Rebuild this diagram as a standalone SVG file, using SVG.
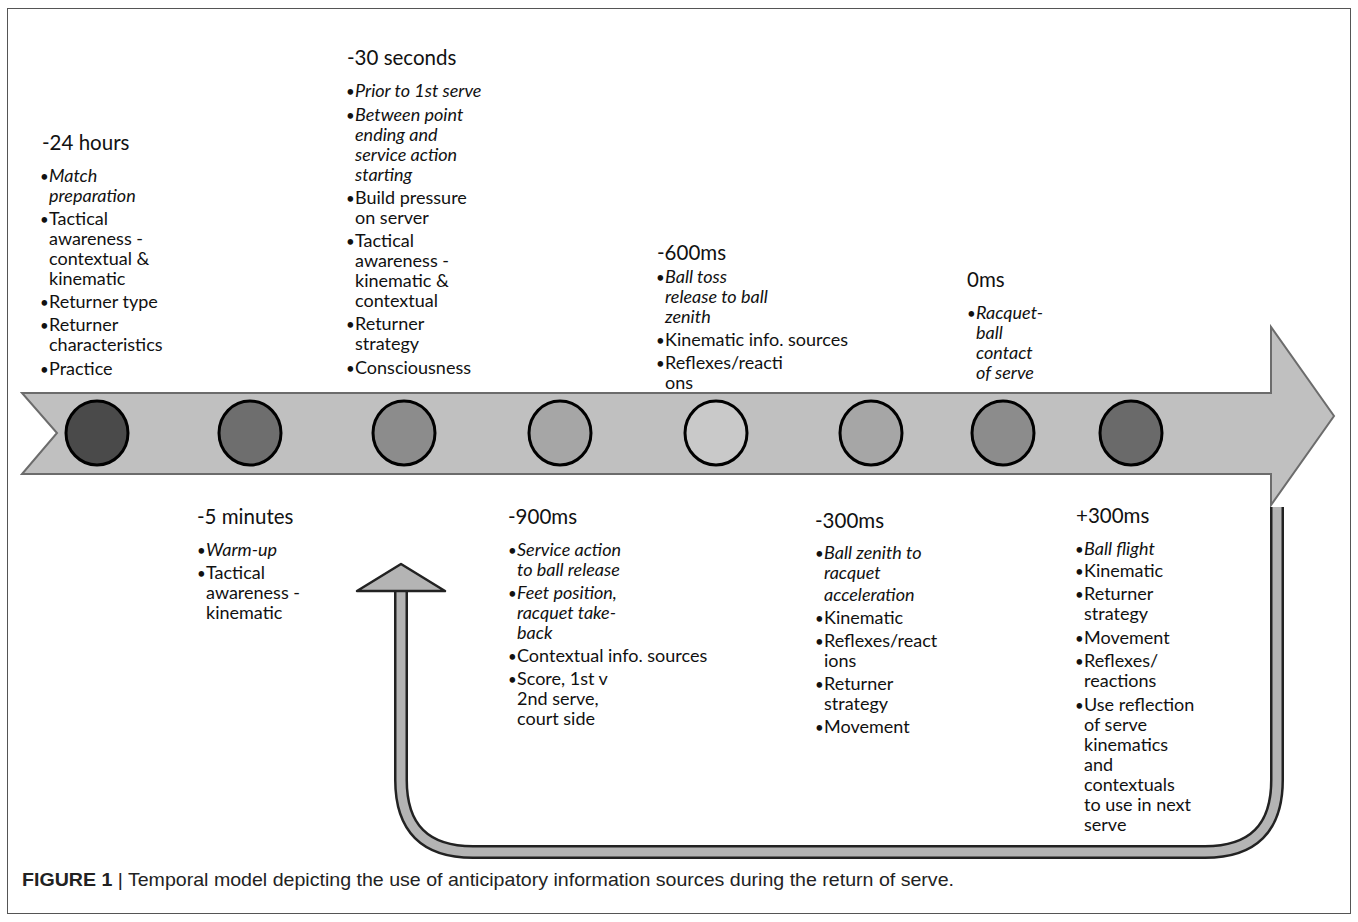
<svg xmlns="http://www.w3.org/2000/svg" width="1358" height="922" viewBox="0 0 1358 922">
<style>
.h{font-family:Lato,"Open Sans",sans-serif;font-size:20.5px;fill:#111}
.t{font-family:Lato,"Open Sans",sans-serif;font-size:18px;fill:#111}
.b{font-size:15px}
.i{font-style:italic}
.c{stroke:#000;stroke-width:3}
.cap{font-family:"Liberation Sans Narrow","Liberation Sans",sans-serif;font-size:18.5px;fill:#222}
</style>
<rect x="0" y="0" width="1358" height="922" fill="#fff"/>
<rect x="7.5" y="8.5" width="1343" height="905" fill="none" stroke="#555" stroke-width="1"/>

<g id="connectors">
  <path id="timeline" d="M22 393 L1271 393 L1271 327 L1334 416 L1271 505 L1271 474 L22 474 L57 433 Z" fill="#c0c0c0" stroke="#6c6c6c" stroke-width="2"/>
  <g id="return-arrow">
    <path d="M1277 507 L1277 780 Q1277 852 1205 852 L473 852 Q401 852 401 780 L401 590" fill="none" stroke="#222" stroke-width="14"/>
    <path d="M1277 507 L1277 780 Q1277 852 1205 852 L473 852 Q401 852 401 780 L401 588" fill="none" stroke="#b4b4b4" stroke-width="9"/>
    <polygon points="357,591 401,564 445,591" fill="#b4b4b4" stroke="#222" stroke-width="2.5" stroke-linejoin="round"/>
  </g>
</g>

<g id="markers">
  <ellipse id="m1" class="c" cx="97" cy="433" rx="31" ry="32" fill="#4a4a4a"/>
  <ellipse id="m2" class="c" cx="250" cy="433" rx="31" ry="32" fill="#6e6e6e"/>
  <ellipse id="m3" class="c" cx="404" cy="433" rx="31" ry="32" fill="#8c8c8c"/>
  <ellipse id="m4" class="c" cx="560" cy="433" rx="31" ry="32" fill="#a6a6a6"/>
  <ellipse id="m5" class="c" cx="716" cy="433" rx="31" ry="32" fill="#c9c9c9"/>
  <ellipse id="m6" class="c" cx="871" cy="433" rx="31" ry="32" fill="#a6a6a6"/>
  <ellipse id="m7" class="c" cx="1003" cy="433" rx="31" ry="32" fill="#8c8c8c"/>
  <ellipse id="m8" class="c" cx="1131" cy="433" rx="31" ry="32" fill="#6a6a6a"/>
</g>

<g id="n-24h">
  <text class="h" x="42" y="150">-24 hours</text>
  <text class="t" y="182"><tspan class="b" x="40">•</tspan><tspan x="49" class="i">Match</tspan></text>
  <text class="t i" x="49" y="202">preparation</text>
  <text class="t" y="225"><tspan class="b" x="40">•</tspan><tspan x="49">Tactical</tspan></text>
  <text class="t" x="49" y="245">awareness -</text>
  <text class="t" x="49" y="265">contextual &amp;</text>
  <text class="t" x="49" y="285">kinematic</text>
  <text class="t" y="308"><tspan class="b" x="40">•</tspan><tspan x="49">Returner type</tspan></text>
  <text class="t" y="331"><tspan class="b" x="40">•</tspan><tspan x="49">Returner</tspan></text>
  <text class="t" x="49" y="351">characteristics</text>
  <text class="t" y="375"><tspan class="b" x="40">•</tspan><tspan x="49">Practice</tspan></text>
</g>

<g id="n-30s">
  <text class="h" x="347" y="65">-30 seconds</text>
  <text class="t" y="97"><tspan class="b" x="346">•</tspan><tspan x="355" class="i">Prior to 1st serve</tspan></text>
  <text class="t" y="121"><tspan class="b" x="346">•</tspan><tspan x="355" class="i">Between point</tspan></text>
  <text class="t i" x="355" y="141">ending and</text>
  <text class="t i" x="355" y="161">service action</text>
  <text class="t i" x="355" y="181">starting</text>
  <text class="t" y="204"><tspan class="b" x="346">•</tspan><tspan x="355">Build pressure</tspan></text>
  <text class="t" x="355" y="224">on server</text>
  <text class="t" y="247"><tspan class="b" x="346">•</tspan><tspan x="355">Tactical</tspan></text>
  <text class="t" x="355" y="267">awareness -</text>
  <text class="t" x="355" y="287">kinematic &amp;</text>
  <text class="t" x="355" y="307">contextual</text>
  <text class="t" y="330"><tspan class="b" x="346">•</tspan><tspan x="355">Returner</tspan></text>
  <text class="t" x="355" y="350">strategy</text>
  <text class="t" y="374"><tspan class="b" x="346">•</tspan><tspan x="355">Consciousness</tspan></text>
</g>

<g id="n-600ms">
  <text class="h" x="657" y="260">-600ms</text>
  <text class="t" y="283"><tspan class="b" x="656">•</tspan><tspan x="665" class="i">Ball toss</tspan></text>
  <text class="t i" x="665" y="303">release to ball</text>
  <text class="t i" x="665" y="323">zenith</text>
  <text class="t" y="346"><tspan class="b" x="656">•</tspan><tspan x="665">Kinematic info. sources</tspan></text>
  <text class="t" y="369"><tspan class="b" x="656">•</tspan><tspan x="665">Reflexes/reacti</tspan></text>
  <text class="t" x="665" y="389">ons</text>
</g>

<g id="n-0ms">
  <text class="h" x="967" y="287">0ms</text>
  <text class="t" y="319"><tspan class="b" x="967">•</tspan><tspan x="976" class="i">Racquet-</tspan></text>
  <text class="t i" x="976" y="339">ball</text>
  <text class="t i" x="976" y="359">contact</text>
  <text class="t i" x="976" y="379">of serve</text>
</g>

<g id="n-5min">
  <text class="h" x="197" y="524">-5 minutes</text>
  <text class="t" y="556"><tspan class="b" x="197">•</tspan><tspan x="206" class="i">Warm-up</tspan></text>
  <text class="t" y="579"><tspan class="b" x="197">•</tspan><tspan x="206">Tactical</tspan></text>
  <text class="t" x="206" y="599">awareness -</text>
  <text class="t" x="206" y="619">kinematic</text>
</g>

<g id="n-900ms">
  <text class="h" x="508" y="524">-900ms</text>
  <text class="t" y="556"><tspan class="b" x="508">•</tspan><tspan x="517" class="i">Service action</tspan></text>
  <text class="t i" x="517" y="576">to ball release</text>
  <text class="t" y="599"><tspan class="b" x="508">•</tspan><tspan x="517" class="i">Feet position,</tspan></text>
  <text class="t i" x="517" y="619">racquet take-</text>
  <text class="t i" x="517" y="639">back</text>
  <text class="t" y="662"><tspan class="b" x="508">•</tspan><tspan x="517">Contextual info. sources</tspan></text>
  <text class="t" y="685"><tspan class="b" x="508">•</tspan><tspan x="517">Score, 1st v</tspan></text>
  <text class="t" x="517" y="705">2nd serve,</text>
  <text class="t" x="517" y="725">court side</text>
</g>

<g id="n-300ms">
  <text class="h" x="815" y="528">-300ms</text>
  <text class="t" y="559"><tspan class="b" x="815">•</tspan><tspan x="824" class="i">Ball zenith to</tspan></text>
  <text class="t i" x="824" y="579">racquet</text>
  <text class="t i" x="824" y="601">acceleration</text>
  <text class="t" y="624"><tspan class="b" x="815">•</tspan><tspan x="824">Kinematic</tspan></text>
  <text class="t" y="647"><tspan class="b" x="815">•</tspan><tspan x="824">Reflexes/react</tspan></text>
  <text class="t" x="824" y="667">ions</text>
  <text class="t" y="690"><tspan class="b" x="815">•</tspan><tspan x="824">Returner</tspan></text>
  <text class="t" x="824" y="710">strategy</text>
  <text class="t" y="733"><tspan class="b" x="815">•</tspan><tspan x="824">Movement</tspan></text>
</g>

<g id="n+300ms">
  <text class="h" x="1076" y="523">+300ms</text>
  <text class="t" y="555"><tspan class="b" x="1075">•</tspan><tspan x="1084" class="i">Ball flight</tspan></text>
  <text class="t" y="577"><tspan class="b" x="1075">•</tspan><tspan x="1084">Kinematic</tspan></text>
  <text class="t" y="600"><tspan class="b" x="1075">•</tspan><tspan x="1084">Returner</tspan></text>
  <text class="t" x="1084" y="620">strategy</text>
  <text class="t" y="644"><tspan class="b" x="1075">•</tspan><tspan x="1084">Movement</tspan></text>
  <text class="t" y="667"><tspan class="b" x="1075">•</tspan><tspan x="1084">Reflexes/</tspan></text>
  <text class="t" x="1084" y="687">reactions</text>
  <text class="t" y="711"><tspan class="b" x="1075">•</tspan><tspan x="1084">Use reflection</tspan></text>
  <text class="t" x="1084" y="731">of serve</text>
  <text class="t" x="1084" y="751">kinematics</text>
  <text class="t" x="1084" y="771">and</text>
  <text class="t" x="1084" y="791">contextuals</text>
  <text class="t" x="1084" y="811">to use in next</text>
  <text class="t" x="1084" y="831">serve</text>
</g>

<g id="caption">
  <text class="cap" x="22" y="886" textLength="932" lengthAdjust="spacingAndGlyphs"><tspan font-weight="bold">FIGURE 1</tspan> | Temporal model depicting the use of anticipatory information sources during the return of serve.</text>
</g>
</svg>
